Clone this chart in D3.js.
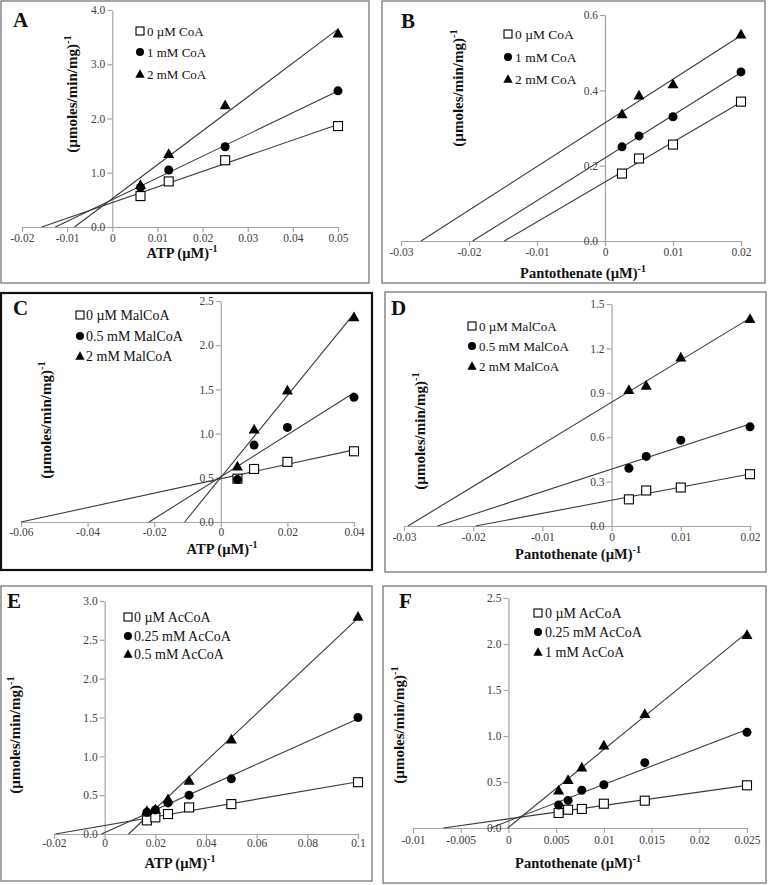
<!DOCTYPE html>
<html><head><meta charset="utf-8">
<script src="https://cdn.jsdelivr.net/npm/d3@7"></script>
<style>body{margin:0;background:#fff}svg{display:block}</style>
</head><body>
<svg id="c" width="769" height="885"></svg>
<script>
// ---------------- DATA ----------------
// Panel A: ATP, CoA
const legendA = ["0 µM CoA", "1 mM CoA", "2 mM CoA"];
const xA = [0.00625, 0.0125, 0.025, 0.05];
const yA0 = [0.57, 0.84, 1.23, 1.86];
const yA1 = [0.73, 1.05, 1.48, 2.51];
const yA2 = [0.78, 1.35, 2.25, 3.57];
const xTicksA = [-0.02, -0.01, 0, 0.01, 0.02, 0.03, 0.04, 0.05];
const xTickLabelsA = ["-0.02", "-0.01", "0", "0.01", "0.02", "0.03", "0.04", "0.05"];
const yTicksA = [0, 1, 2, 3, 4];
const yTickLabelsA = ["0.0", "1.0", "2.0", "3.0", "4.0"];

// Panel B: Pantothenate, CoA
const legendB = ["0 µM CoA", "1 mM CoA", "2 mM CoA"];
const xB = [0.0025, 0.005, 0.01, 0.02];
const yB0 = [0.179, 0.219, 0.256, 0.370];
const yB1 = [0.250, 0.279, 0.330, 0.449];
const yB2 = [0.337, 0.387, 0.417, 0.549];
const xTicksB = [-0.03, -0.02, -0.01, 0, 0.01, 0.02];
const xTickLabelsB = ["-0.03", "-0.02", "-0.01", "0", "0.01", "0.02"];
const yTicksB = [0, 0.2, 0.4, 0.6];
const yTickLabelsB = ["0.0", "0.2", "0.4", "0.6"];

// Panel C: ATP, MalCoA
const legendC = ["0 µM MalCoA", "0.5 mM MalCoA", "2 mM MalCoA"];
const xC = [0.005, 0.01, 0.02, 0.04];
const yC0 = [0.49, 0.60, 0.68, 0.80];
const yC1 = [0.48, 0.87, 1.07, 1.41];
const yC2 = [0.63, 1.05, 1.49, 2.32];
const xTicksC = [-0.06, -0.04, -0.02, 0, 0.02, 0.04];
const xTickLabelsC = ["-0.06", "-0.04", "-0.02", "0", "0.02", "0.04"];
const yTicksC = [0, 0.5, 1, 1.5, 2, 2.5];
const yTickLabelsC = ["0.0", "0.5", "1.0", "1.5", "2.0", "2.5"];

// Panel D: Pantothenate, MalCoA
const legendD = ["0 µM MalCoA", "0.5 mM MalCoA", "2 mM MalCoA"];
const xD = [0.0025, 0.005, 0.01, 0.02];
const yD0 = [0.18, 0.24, 0.26, 0.35];
const yD1 = [0.39, 0.47, 0.58, 0.67];
const yD2 = [0.92, 0.95, 1.14, 1.40];
const xTicksD = [-0.03, -0.02, -0.01, 0, 0.01, 0.02];
const xTickLabelsD = ["-0.03", "-0.02", "-0.01", "0", "0.01", "0.02"];
const yTicksD = [0, 0.3, 0.6, 0.9, 1.2, 1.5];
const yTickLabelsD = ["0.0", "0.3", "0.6", "0.9", "1.2", "1.5"];

// Panel E: ATP, AcCoA
const legendE = ["0 µM AcCoA", "0.25 mM AcCoA", "0.5 mM AcCoA"];
const xE = [0.01667, 0.02, 0.025, 0.03333, 0.05, 0.1];
const yE0 = [0.175, 0.214, 0.257, 0.342, 0.385, 0.667];
const yE1 = [0.28, 0.31, 0.40, 0.50, 0.71, 1.50];
const yE2 = [0.30, 0.32, 0.45, 0.69, 1.22, 2.80];
const xTicksE = [-0.02, 0, 0.02, 0.04, 0.06, 0.08, 0.1];
const xTickLabelsE = ["-0.02", "0", "0.02", "0.04", "0.06", "0.08", "0.1"];
const yTicksE = [0, 0.5, 1, 1.5, 2, 2.5, 3];
const yTickLabelsE = ["0.0", "0.5", "1.0", "1.5", "2.0", "2.5", "3.0"];

// Panel F: Pantothenate, AcCoA
const legendF = ["0 µM AcCoA", "0.25 mM AcCoA", "1 mM AcCoA"];
const xF = [0.00526, 0.00625, 0.00769, 0.01, 0.01429, 0.025];
const yF0 = [0.163, 0.199, 0.207, 0.264, 0.297, 0.464];
const yF1 = [0.25, 0.30, 0.41, 0.47, 0.71, 1.04];
const yF2 = [0.41, 0.525, 0.66, 0.90, 1.243, 2.10];
const xTicksF = [-0.01, -0.005, 0, 0.005, 0.01, 0.015, 0.02, 0.025];
const xTickLabelsF = ["-0.01", "-0.005", "0", "0.005", "0.01", "0.015", "0.02", "0.025"];
const yTicksF = [0, 0.5, 1, 1.5, 2, 2.5];
const yTickLabelsF = ["0.0", "0.5", "1.0", "1.5", "2.0", "2.5"];

const panelLetters = ["A", "B", "C", "D", "E", "F"];
const xTitles = ["ATP ", "Pantothenate  ", "ATP ", "Pantothenate  ", "ATP ", "Pantothenate  "];
const yTitle = "(µmoles/min/mg)";

// ---------------- LAYOUT (positions / styles) ----------------
const layout = [
  {box:[1,1,369,283], xr:[22,338], yr:[227,10], lab:[13,27], leg:{mx:140, tx:147, ys:[31,52,74], fs:13},
   xt:[182,258], yt:[72,94], tly:7, bw:1.2, bc:"#6b6b6b"},
  {box:[382,1,765,283], xr:[401,741], yr:[241,15], lab:[401,28], leg:{mx:508, tx:515, ys:[34,57,79], fs:13.5},
   xt:[583,278], yt:[458,88], tly:7, bw:1.2, bc:"#6b6b6b"},
  {box:[1,293,372,570], xr:[21,354], yr:[522,301], lab:[13,315], leg:{mx:80, tx:86, ys:[315,336,356], fs:14},
   xt:[222,554], yt:[46,420], tly:6, bw:2.2, bc:"#111"},
  {box:[385,292,766,572], xr:[404,750], yr:[526,304], lab:[391,315], leg:{mx:472, tx:479, ys:[326,346,366], fs:13},
   xt:[578,559], yt:[420,431], tly:7, bw:1.2, bc:"#6b6b6b"},
  {box:[1,586,372,881], xr:[54,358], yr:[834,601], lab:[7,608], leg:{mx:128, tx:134, ys:[617,636,654], fs:14},
   xt:[180,868], yt:[15,735], tly:5, bw:1.2, bc:"#6b6b6b"},
  {box:[383,586,766,883], xr:[413,747], yr:[828,598], lab:[399,608], leg:{mx:538, tx:545, ys:[613,632,652], fs:14},
   xt:[578,868], yt:[399,725], tly:8, bw:1.2, bc:"#6b6b6b"}
];

const panelData = [
  {x:xA, ys:[yA0,yA1,yA2], legend:legendA, xt:xTicksA, xl:xTickLabelsA, yt:yTicksA, yl:yTickLabelsA},
  {x:xB, ys:[yB0,yB1,yB2], legend:legendB, xt:xTicksB, xl:xTickLabelsB, yt:yTicksB, yl:yTickLabelsB},
  {x:xC, ys:[yC0,yC1,yC2], legend:legendC, xt:xTicksC, xl:xTickLabelsC, yt:yTicksC, yl:yTickLabelsC},
  {x:xD, ys:[yD0,yD1,yD2], legend:legendD, xt:xTicksD, xl:xTickLabelsD, yt:yTicksD, yl:yTickLabelsD},
  {x:xE, ys:[yE0,yE1,yE2], legend:legendE, xt:xTicksE, xl:xTickLabelsE, yt:yTicksE, yl:yTickLabelsE},
  {x:xF, ys:[yF0,yF1,yF2], legend:legendF, xt:xTicksF, xl:xTickLabelsF, yt:yTicksF, yl:yTickLabelsF}
];

const svg = d3.select("#c");
const SERIF = "'Liberation Serif','Times New Roman',serif";
const axisColor = "#a6a6a6";

function fit(xs, ys) {
  const mx = d3.mean(xs), my = d3.mean(ys);
  let sxy = 0, sxx = 0;
  xs.forEach((x, i) => { sxy += (x - mx) * (ys[i] - my); sxx += (x - mx) * (x - mx); });
  const m = sxy / sxx;
  return {m, b: my - m * mx};
}

function marker(g, type, cx, cy, s) {
  if (type === 0) {
    g.append("rect").attr("x", cx - s/2).attr("y", cy - s/2).attr("width", s).attr("height", s)
      .attr("fill", "#fff").attr("stroke", "#000").attr("stroke-width", 1.1);
  } else if (type === 1) {
    g.append("circle").attr("cx", cx).attr("cy", cy).attr("r", s/2).attr("fill", "#000");
  } else {
    const h = s * 0.95;
    g.append("path").attr("d", `M${cx},${cy - h*0.58}L${cx + s*0.55},${cy + h*0.45}L${cx - s*0.55},${cy + h*0.45}Z`)
      .attr("fill", "#000");
  }
}

panelData.forEach((pd, i) => {
  const L = layout[i];
  const g = svg.append("g");
  const [bx0, by0, bx1, by1] = L.box;
  g.append("rect").attr("x", bx0).attr("y", by0).attr("width", bx1 - bx0).attr("height", by1 - by0)
    .attr("fill", "none").attr("stroke", L.bc).attr("stroke-width", L.bw);

  const x = d3.scaleLinear().domain([pd.xt[0], pd.xt[pd.xt.length - 1]]).range(L.xr);
  const y = d3.scaleLinear().domain([pd.yt[0], pd.yt[pd.yt.length - 1]]).range(L.yr);

  const xAxis = d3.axisBottom(x).tickValues(pd.xt).tickSize(5).tickSizeOuter(0)
    .tickFormat((d, j) => pd.xl[j]);
  const gx = g.append("g").attr("transform", `translate(0,${y(0)})`).call(xAxis);
  const yAxis = d3.axisLeft(y).tickValues(pd.yt).tickSize(5).tickSizeOuter(0)
    .tickFormat((d, j) => pd.yl[j]);
  const gy = g.append("g").attr("transform", `translate(${x(0)},0)`).call(yAxis);
  [gx, gy].forEach(a => {
    a.attr("font-family", SERIF).attr("font-size", 11.5);
    a.select(".domain").attr("stroke", axisColor).attr("stroke-width", 1.2);
    a.selectAll(".tick line").attr("stroke", axisColor).attr("stroke-width", 1.2);
    a.selectAll(".tick text").attr("fill", "#404040").style("font-family", SERIF).style("font-size", "11.5px");
  });
  gx.selectAll(".tick text").attr("dy", "0.71em").attr("y", L.tly);
  gy.selectAll(".tick text").attr("x", -7);

  // trend lines (least squares, drawn from x-intercept to last x)
  const line = d3.line().x(d => x(d[0])).y(d => y(d[1]));
  pd.ys.forEach(ys => {
    const f = fit(pd.x, ys);
    const x0 = -f.b / f.m, x1 = pd.x[pd.x.length - 1];
    g.append("path").attr("d", line([[x0, 0], [x1, f.m * x1 + f.b]]))
      .attr("stroke", "#3a3a3a").attr("stroke-width", 1.1).attr("fill", "none");
  });

  // markers
  pd.ys.forEach((ys, k) => {
    pd.x.forEach((xv, j) => marker(g, k, x(xv), y(ys[j]), k === 2 ? 10 : 9));
  });

  // legend
  pd.legend.forEach((t, k) => {
    const yy = L.leg.ys[k];
    marker(g, k, L.leg.mx, yy, k === 2 ? 8.5 : 8);
    g.append("text").attr("x", L.leg.tx).attr("y", yy).attr("dy", "0.35em")
      .attr("font-family", SERIF).attr("font-size", L.leg.fs).attr("fill", "#111").text(t);
  });

  // panel letter
  g.append("text").attr("x", L.lab[0]).attr("y", L.lab[1]).attr("font-family", SERIF)
    .attr("font-weight", "bold").attr("font-size", 21).attr("fill", "#111").text(panelLetters[i]);

  // x title
  const xt = g.append("text").attr("x", L.xt[0]).attr("y", L.xt[1]).attr("text-anchor", "middle")
    .attr("font-family", SERIF).attr("font-weight", "bold").attr("font-size", 14.5).attr("fill", "#111");
  xt.append("tspan").text(xTitles[i] + "(µM)");
  xt.append("tspan").attr("dy", -6).attr("font-size", 10).text("-1");

  // y title
  const yt = g.append("text").attr("transform", `translate(${L.yt[0]},${L.yt[1]}) rotate(-90)`)
    .attr("text-anchor", "middle").attr("dy", "0.35em")
    .attr("font-family", SERIF).attr("font-weight", "bold").attr("font-size", 15).attr("fill", "#111");
  yt.append("tspan").text(yTitle);
  yt.append("tspan").attr("dy", -6).attr("font-size", 10.5).text("-1");
});
</script>
</body></html>
